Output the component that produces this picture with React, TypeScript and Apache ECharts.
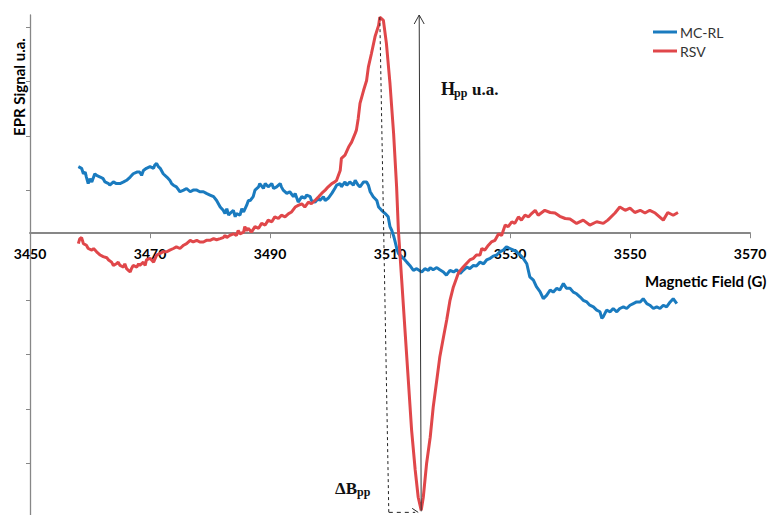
import React, { useEffect, useRef } from "react";
import * as echarts from "echarts";

// [magnetic field (G), EPR signal (u.a.)]
const mcrlPoints: [number, number][] = [
  [3458.06, 1.22], [3458.6, 1.19], [3458.9, 1.09], [3459.2, 1.12], [3459.4, 1.03], [3459.7, 0.91],
  [3460.0, 1.0], [3460.3, 0.94], [3460.8, 1.09], [3461.1, 1.06], [3461.7, 1.03], [3462.2, 1.0],
  [3462.5, 0.94], [3463.1, 0.91], [3463.3, 0.88], [3463.9, 0.94], [3464.4, 0.91], [3465.0, 0.91],
  [3465.6, 0.94], [3466.1, 0.97], [3466.7, 1.03], [3467.2, 1.09], [3467.8, 1.12], [3468.3, 1.12],
  [3468.6, 1.06], [3468.9, 1.15], [3469.4, 1.19], [3470.0, 1.22], [3470.6, 1.19], [3470.8, 1.25],
  [3471.1, 1.28], [3471.4, 1.22], [3471.7, 1.19], [3472.2, 1.09], [3472.8, 1.03], [3473.3, 0.97],
  [3473.6, 0.91], [3473.9, 0.88], [3474.4, 0.85], [3475.0, 0.76], [3475.6, 0.79], [3476.1, 0.82],
  [3476.7, 0.76], [3477.2, 0.79], [3477.8, 0.79], [3478.3, 0.76], [3478.9, 0.76], [3479.4, 0.73],
  [3480.0, 0.7], [3480.6, 0.67], [3481.1, 0.6], [3481.4, 0.54], [3481.7, 0.48], [3482.2, 0.42],
  [3482.5, 0.36], [3482.8, 0.45], [3483.1, 0.33], [3483.3, 0.36], [3483.9, 0.42], [3484.2, 0.3],
  [3484.4, 0.36], [3485.0, 0.33], [3485.3, 0.45], [3485.6, 0.39], [3486.1, 0.51], [3486.4, 0.6],
  [3486.7, 0.6], [3487.2, 0.67], [3487.5, 0.79], [3488.1, 0.85], [3488.3, 0.91], [3488.9, 0.82],
  [3489.2, 0.91], [3489.7, 0.85], [3490.3, 0.91], [3490.6, 0.82], [3491.1, 0.85], [3491.7, 0.91],
  [3491.9, 0.85], [3492.2, 0.79], [3492.8, 0.73], [3493.3, 0.76], [3493.9, 0.67], [3494.2, 0.73],
  [3494.7, 0.57], [3495.3, 0.67], [3495.8, 0.64], [3496.1, 0.7], [3496.7, 0.67], [3496.9, 0.6],
  [3497.5, 0.57], [3498.1, 0.64], [3498.3, 0.6], [3498.9, 0.67], [3499.2, 0.6], [3499.7, 0.64],
  [3500.3, 0.73], [3500.8, 0.82], [3501.1, 0.88], [3501.7, 0.91], [3501.9, 0.85], [3502.5, 0.94],
  [3502.8, 0.88], [3503.3, 0.94], [3503.9, 0.88], [3504.2, 0.97], [3504.7, 0.88], [3505.0, 0.85],
  [3505.6, 0.94], [3506.1, 0.94], [3506.4, 0.88], [3506.7, 0.76], [3507.2, 0.67], [3507.8, 0.6],
  [3508.1, 0.48], [3508.6, 0.42], [3509.2, 0.36], [3509.7, 0.3], [3510.0, 0.12], [3510.3, 0.05],
  [3510.6, -0.05], [3510.8, -0.13], [3511.1, -0.27], [3511.4, -0.37], [3511.95, -0.43], [3512.5, -0.49],
  [3512.8, -0.53], [3513.3, -0.59], [3513.9, -0.68], [3514.45, -0.65], [3515.3, -0.71], [3515.8, -0.65],
  [3516.4, -0.68], [3516.7, -0.63], [3517.2, -0.67], [3517.8, -0.63], [3518.3, -0.67], [3518.9, -0.71],
  [3519.4, -0.77], [3520.0, -0.68], [3520.6, -0.71], [3521.1, -0.67], [3521.7, -0.74], [3522.2, -0.68],
  [3522.8, -0.62], [3523.3, -0.65], [3523.9, -0.59], [3524.4, -0.6], [3525.0, -0.53], [3525.6, -0.56],
  [3526.1, -0.49], [3526.7, -0.46], [3527.2, -0.42], [3527.8, -0.4], [3528.3, -0.34], [3528.9, -0.31],
  [3529.4, -0.25], [3530.0, -0.28], [3530.6, -0.31], [3531.1, -0.34], [3531.7, -0.4], [3532.2, -0.46],
  [3532.8, -0.56], [3533.3, -0.8], [3533.9, -0.86], [3534.4, -0.98], [3535.0, -1.07], [3535.55, -1.2],
  [3536.1, -1.14], [3536.7, -1.04], [3537.2, -1.08], [3537.8, -1.01], [3538.3, -1.04], [3538.9, -0.92],
  [3539.4, -1.01], [3540.0, -1.01], [3540.55, -1.08], [3541.1, -1.11], [3541.7, -1.17], [3542.2, -1.23],
  [3542.8, -1.26], [3543.3, -1.32], [3543.9, -1.35], [3544.45, -1.41], [3545.0, -1.44], [3545.3, -1.56],
  [3545.55, -1.53], [3546.1, -1.41], [3546.7, -1.44], [3547.2, -1.38], [3547.8, -1.44], [3548.3, -1.38],
  [3548.9, -1.35], [3549.45, -1.38], [3550.0, -1.32], [3550.55, -1.29], [3551.1, -1.26], [3551.7, -1.26],
  [3552.2, -1.2], [3552.8, -1.29], [3553.3, -1.32], [3553.9, -1.38], [3554.45, -1.35], [3555.0, -1.38],
  [3555.55, -1.32], [3556.1, -1.35], [3556.7, -1.26], [3557.2, -1.2], [3557.8, -1.29],
];

const rsvPoints: [number, number][] = [
  [3458.06, -0.19], [3458.3, -0.1], [3458.6, -0.08], [3458.9, -0.19], [3459.4, -0.22], [3459.7, -0.28],
  [3460.3, -0.31], [3460.6, -0.28], [3461.1, -0.34], [3461.7, -0.4], [3462.2, -0.43], [3462.8, -0.45],
  [3463.1, -0.49], [3463.6, -0.53], [3463.9, -0.59], [3464.4, -0.56], [3464.7, -0.53], [3465.0, -0.59],
  [3465.6, -0.62], [3465.8, -0.56], [3466.1, -0.65], [3466.4, -0.68], [3466.7, -0.71], [3466.9, -0.65],
  [3467.2, -0.59], [3467.8, -0.62], [3468.1, -0.56], [3468.3, -0.59], [3468.9, -0.53], [3469.2, -0.59],
  [3469.4, -0.49], [3470.0, -0.46], [3470.6, -0.53], [3471.1, -0.4], [3471.7, -0.37], [3472.2, -0.34],
  [3472.8, -0.34], [3473.3, -0.31], [3473.9, -0.28], [3474.4, -0.25], [3475.0, -0.28], [3475.6, -0.22],
  [3476.1, -0.19], [3476.7, -0.13], [3477.2, -0.16], [3477.8, -0.13], [3478.3, -0.16], [3478.9, -0.16],
  [3479.4, -0.13], [3480.0, -0.13], [3480.6, -0.1], [3481.1, -0.12], [3481.7, -0.1], [3482.2, -0.08],
  [3482.5, -0.04], [3482.8, -0.08], [3483.3, -0.04], [3483.9, -0.01], [3484.4, -0.04], [3484.7, 0.05],
  [3485.0, -0.01], [3485.6, 0.02], [3485.8, 0.12], [3486.1, 0.05], [3486.4, 0.09], [3486.9, 0.02],
  [3487.5, 0.12], [3488.1, 0.09], [3488.6, 0.18], [3489.2, 0.15], [3489.7, 0.24], [3490.3, 0.21],
  [3490.8, 0.3], [3491.4, 0.27], [3491.9, 0.33], [3492.5, 0.3], [3493.1, 0.36], [3493.6, 0.39],
  [3494.2, 0.48], [3494.7, 0.51], [3495.3, 0.54], [3495.8, 0.48], [3496.4, 0.57], [3496.9, 0.54],
  [3497.5, 0.6], [3498.1, 0.67], [3498.6, 0.73], [3499.2, 0.79], [3499.7, 0.85], [3500.3, 0.91],
  [3500.8, 0.94], [3501.1, 0.97], [3501.7, 1.15], [3501.9, 1.37], [3502.5, 1.43], [3503.1, 1.58],
  [3503.6, 1.67], [3504.2, 1.83], [3504.4, 1.89], [3504.7, 2.1], [3505.0, 2.38], [3505.6, 2.62],
  [3506.1, 2.8], [3506.4, 3.05], [3506.9, 3.29], [3507.5, 3.6], [3508.1, 3.81], [3508.3, 3.96],
  [3508.9, 3.9], [3509.4, 3.48], [3510.0, 2.74], [3510.6, 1.83], [3511.1, 0.85], [3511.4, 0.05],
  [3511.95, -0.86], [3512.5, -1.78], [3513.05, -2.69], [3513.6, -3.61], [3514.2, -4.34], [3514.7, -4.84],
  [3515.2, -5.08], [3515.55, -4.84], [3516.1, -4.22], [3516.7, -3.74], [3517.2, -3.19], [3517.8, -2.69],
  [3518.3, -2.27], [3518.9, -1.91], [3519.45, -1.59], [3520.0, -1.23], [3520.55, -0.99], [3521.4, -0.73],
  [3522.2, -0.62], [3523.3, -0.49], [3523.9, -0.46], [3524.4, -0.4], [3525.0, -0.4], [3525.3, -0.28],
  [3525.8, -0.31], [3526.4, -0.22], [3526.9, -0.16], [3527.5, -0.13], [3528.1, -0.01], [3528.6, -0.04],
  [3529.2, 0.15], [3529.7, 0.12], [3530.3, 0.21], [3530.8, 0.18], [3531.4, 0.3], [3531.9, 0.24],
  [3532.5, 0.33], [3533.1, 0.3], [3533.6, 0.36], [3534.2, 0.42], [3534.7, 0.33], [3535.8, 0.42],
  [3536.7, 0.38], [3537.5, 0.37], [3538.3, 0.31], [3539.2, 0.27], [3540.0, 0.26], [3541.1, 0.18],
  [3542.2, 0.24], [3543.3, 0.15], [3544.45, 0.21], [3545.55, 0.18], [3546.3, 0.24], [3547.5, 0.37],
  [3548.3, 0.48], [3549.2, 0.42], [3550.0, 0.46], [3550.8, 0.38], [3551.7, 0.42], [3552.5, 0.37],
  [3553.3, 0.42], [3554.2, 0.37], [3555.55, 0.24], [3556.3, 0.38], [3557.2, 0.33], [3558.0, 0.38],
];

const xTicks = [3450, 3470, 3490, 3510, 3530, 3550, 3570];
const yTickValues = [-4.22, -3.22, -2.22, -1.22, 0.78, 1.78, 2.78, 3.78];
const seriesNames = ["MC-RL", "RSV"];

export default function App() {
  const ref = useRef<HTMLDivElement>(null);
  useEffect(() => {
    document.body.style.margin = "0";
    const chart = echarts.init(ref.current!, null, { renderer: "svg" });
    const axisGray = "#878787";
    const yMin = -5.22;
    const yMax = 4.0;
    const gridTop = 15;
    const gridHeight = 503;
    // pixel distance from the grid bottom up to value 0, where the field axis crosses
    const zeroOffset = (gridHeight * (0 - yMin)) / (yMax - yMin);
    chart.setOption({
      animation: false,
      backgroundColor: "#ffffff",
      grid: { left: 30, top: gridTop, width: 720, height: gridHeight, containLabel: false, outerBoundsMode: "none" },
      legend: {
        orient: "vertical",
        left: 653,
        top: 25,
        padding: 0,
        itemWidth: 24,
        itemHeight: 3,
        itemGap: 5,
        icon: "rect",
        data: seriesNames,
        textStyle: { fontFamily: "Lato", fontSize: 14, color: "#333", lineHeight: 14, padding: [0, 0, 0, -2] },
      },
      xAxis: {
        type: "value",
        position: "bottom",
        offset: -zeroOffset,
        min: xTicks[0],
        max: xTicks[xTicks.length - 1],
        interval: 20,
        axisLine: { onZero: false, lineStyle: { color: axisGray, width: 2 } },
        axisTick: { show: true, length: 5, lineStyle: { color: axisGray, width: 1 } },
        axisLabel: {
          fontFamily: "Lato",
          fontWeight: "bold",
          fontSize: 14,
          color: "#000",
          margin: 13,
          formatter: (v: number) => String(v),
        },
        splitLine: { show: false },
      },
      yAxis: {
        type: "value",
        min: yMin,
        max: yMax,
        axisLine: { show: true, onZero: false, lineStyle: { color: axisGray, width: 1.3 } },
        axisTick: { show: true, length: 4, customValues: yTickValues, lineStyle: { color: axisGray } },
        axisLabel: { show: false },
        splitLine: { show: false },
      },
      series: [
        {
          name: seriesNames[0],
          type: "line",
          data: mcrlPoints,
          showSymbol: false,
          symbol: "none",
          lineStyle: { color: "#1a7bbf", width: 3 },
          itemStyle: { color: "#1a7bbf" },
        },
        {
          name: seriesNames[1],
          type: "line",
          data: rsvPoints,
          showSymbol: false,
          symbol: "none",
          lineStyle: { color: "#e0474a", width: 3 },
          itemStyle: { color: "#e0474a" },
        },
      ],
    });

    // anchor the annotations on the RSV peak and trough
    let iMax = 0;
    let iMin = 0;
    rsvPoints.forEach((p, i) => {
      if (p[1] > rsvPoints[iMax][1]) iMax = i;
      if (p[1] < rsvPoints[iMin][1]) iMin = i;
    });
    const peak = chart.convertToPixel({ gridIndex: 0 }, rsvPoints[iMax]) as number[];
    const trough = chart.convertToPixel({ gridIndex: 0 }, rsvPoints[iMin]) as number[];
    const top = gridTop;
    const bottom = trough[1] + 2;
    const dashBottomX = peak[0] + 9;
    const arrowTopX = trough[0] - 2;

    const serif = '"Liberation Serif", "Times New Roman", serif';
    chart.setOption({
      graphic: [
        {
          type: "text",
          x: 19,
          y: 87,
          rotation: Math.PI / 2,
          style: { text: "EPR Signal u.a.", font: "bold 15px Lato", fill: "#000", align: "center", verticalAlign: "middle" },
        },
        {
          type: "text",
          x: 645,
          y: 281,
          style: { text: "Magnetic Field (G)", font: "bold 15px Lato", fill: "#000", align: "left", verticalAlign: "middle" },
        },
        {
          type: "line",
          shape: { x1: peak[0], y1: peak[1], x2: dashBottomX, y2: bottom },
          style: { stroke: "#222", lineWidth: 1, lineDash: [3, 3] },
          z: 10,
        },
        {
          type: "line",
          shape: { x1: dashBottomX, y1: bottom, x2: trough[0] - 6, y2: bottom },
          style: { stroke: "#222", lineWidth: 1, lineDash: [4, 4] },
          z: 10,
        },
        {
          type: "polyline",
          shape: { points: [[trough[0] - 9, bottom - 4], [trough[0] - 3, bottom]] },
          style: { stroke: "#222", lineWidth: 1, fill: "none" },
          z: 10,
        },
        {
          type: "line",
          shape: { x1: trough[0], y1: trough[1] + 1, x2: arrowTopX, y2: top },
          style: { stroke: "#333", lineWidth: 1 },
          z: 10,
        },
        {
          type: "polyline",
          shape: { points: [[arrowTopX - 5, top + 9], [arrowTopX, top], [arrowTopX + 5, top + 9]] },
          style: { stroke: "#333", lineWidth: 1, fill: "none" },
          z: 10,
        },
        {
          type: "text",
          x: 441,
          y: 89,
          style: { text: "H", font: `bold 18px ${serif}`, fill: "#111", align: "left", verticalAlign: "middle" },
        },
        {
          type: "text",
          x: 454,
          y: 93,
          style: { text: "pp", font: `bold 12px ${serif}`, fill: "#111", align: "left", verticalAlign: "middle" },
        },
        {
          type: "text",
          x: 472,
          y: 89,
          style: { text: "u.a.", font: `bold 17px ${serif}`, fill: "#111", align: "left", verticalAlign: "middle" },
        },
        {
          type: "text",
          x: 335,
          y: 488,
          style: { text: "ΔB", font: `bold 17px ${serif}`, fill: "#111", align: "left", verticalAlign: "middle" },
        },
        {
          type: "text",
          x: 357,
          y: 492,
          style: { text: "pp", font: `bold 12px ${serif}`, fill: "#111", align: "left", verticalAlign: "middle" },
        },
      ],
    });
    return () => chart.dispose();
  }, []);
  return <div ref={ref} style={{ width: 768, height: 515 }} />;
}
